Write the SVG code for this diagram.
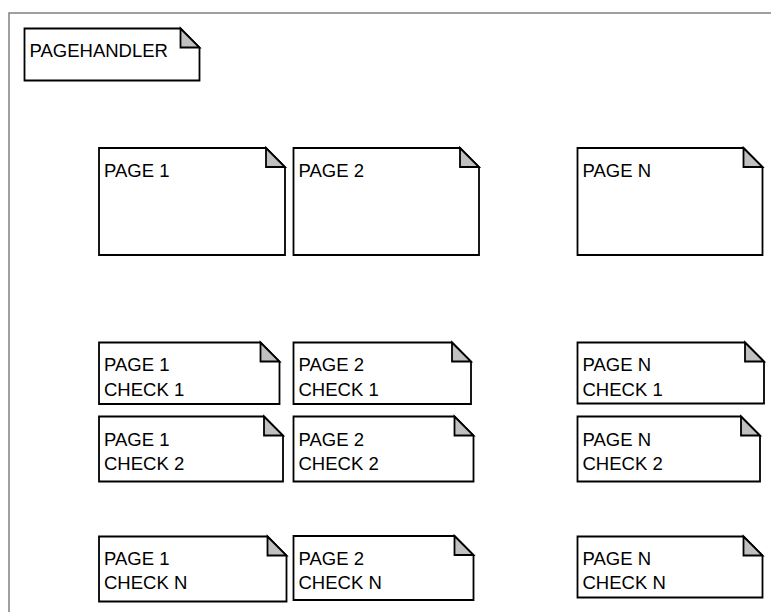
<svg xmlns="http://www.w3.org/2000/svg" width="771" height="612" viewBox="0 0 771 612">
<style>
.body{fill:#ffffff;stroke:#000000;stroke-width:1.8;stroke-linejoin:miter}
.fold{fill:#c0c0c0;stroke:#000000;stroke-width:1.8;stroke-linejoin:miter}
.lbl{font-family:"Liberation Sans",Arial,Helvetica,sans-serif;font-size:18.5px;fill:#000000}
.frame{fill:none;stroke:#808080;stroke-width:1.5}
</style>
<rect width="771" height="612" fill="#ffffff"/>
<g id="frame"><path class="frame" d="M9,613 V13 H772"/></g>
<g id="connectors"></g>
<g id="pagehandler">
<path class="body" d="M24.5,28.5 H180.5 L199.5,47.5 V80.5 H24.5 Z"/>
<path class="fold" d="M180.5,28.5 V47.5 H199.5 Z"/>
<text class="lbl" x="29.5" y="57">PAGEHANDLER</text>
</g>
<g id="page1">
<path class="body" d="M99,148 H266 L285,167 V255 H99 Z"/>
<path class="fold" d="M266,148 V167 H285 Z"/>
<text class="lbl" x="104" y="177">PAGE 1</text>
</g>
<g id="page2">
<path class="body" d="M293.5,148 H460 L479,167 V255 H293.5 Z"/>
<path class="fold" d="M460,148 V167 H479 Z"/>
<text class="lbl" x="298.5" y="177">PAGE 2</text>
</g>
<g id="pageN">
<path class="body" d="M577.5,148 H743.5 L762.5,167 V255 H577.5 Z"/>
<path class="fold" d="M743.5,148 V167 H762.5 Z"/>
<text class="lbl" x="582.5" y="177">PAGE N</text>
</g>
<g id="page1check1">
<path class="body" d="M99,342.5 H260.5 L279.5,361.5 V404 H99 Z"/>
<path class="fold" d="M260.5,342.5 V361.5 H279.5 Z"/>
<text class="lbl" x="104" y="371">PAGE 1</text>
<text class="lbl" x="104" y="395.5">CHECK 1</text>
</g>
<g id="page1check2">
<path class="body" d="M99,416.5 H264 L283,435.5 V481.5 H99 Z"/>
<path class="fold" d="M264,416.5 V435.5 H283 Z"/>
<text class="lbl" x="104" y="445.5">PAGE 1</text>
<text class="lbl" x="104" y="470">CHECK 2</text>
</g>
<g id="page1checkN">
<path class="body" d="M99,536.5 H267.5 L286.5,555.5 V601.5 H99 Z"/>
<path class="fold" d="M267.5,536.5 V555.5 H286.5 Z"/>
<text class="lbl" x="104" y="564.5">PAGE 1</text>
<text class="lbl" x="104" y="589">CHECK N</text>
</g>
<g id="page2check1">
<path class="body" d="M293.5,342.5 H452 L471,361.5 V404 H293.5 Z"/>
<path class="fold" d="M452,342.5 V361.5 H471 Z"/>
<text class="lbl" x="298.5" y="371">PAGE 2</text>
<text class="lbl" x="298.5" y="395.5">CHECK 1</text>
</g>
<g id="page2check2">
<path class="body" d="M293.5,416.5 H454.5 L473.5,435.5 V481.5 H293.5 Z"/>
<path class="fold" d="M454.5,416.5 V435.5 H473.5 Z"/>
<text class="lbl" x="298.5" y="445.5">PAGE 2</text>
<text class="lbl" x="298.5" y="470">CHECK 2</text>
</g>
<g id="page2checkN">
<path class="body" d="M293.5,536 H454.5 L473.5,555 V600 H293.5 Z"/>
<path class="fold" d="M454.5,536 V555 H473.5 Z"/>
<text class="lbl" x="298.5" y="564.5">PAGE 2</text>
<text class="lbl" x="298.5" y="589">CHECK N</text>
</g>
<g id="pageNcheck1">
<path class="body" d="M577.5,342.5 H745 L764,361.5 V403.5 H577.5 Z"/>
<path class="fold" d="M745,342.5 V361.5 H764 Z"/>
<text class="lbl" x="582.5" y="371">PAGE N</text>
<text class="lbl" x="582.5" y="395.5">CHECK 1</text>
</g>
<g id="pageNcheck2">
<path class="body" d="M577.5,416.5 H741 L760,435.5 V481.5 H577.5 Z"/>
<path class="fold" d="M741,416.5 V435.5 H760 Z"/>
<text class="lbl" x="582.5" y="445.5">PAGE N</text>
<text class="lbl" x="582.5" y="470">CHECK 2</text>
</g>
<g id="pageNcheckN">
<path class="body" d="M577.5,536.5 H743.5 L762.5,555.5 V597.5 H577.5 Z"/>
<path class="fold" d="M743.5,536.5 V555.5 H762.5 Z"/>
<text class="lbl" x="582.5" y="564.5">PAGE N</text>
<text class="lbl" x="582.5" y="589">CHECK N</text>
</g>
</svg>
